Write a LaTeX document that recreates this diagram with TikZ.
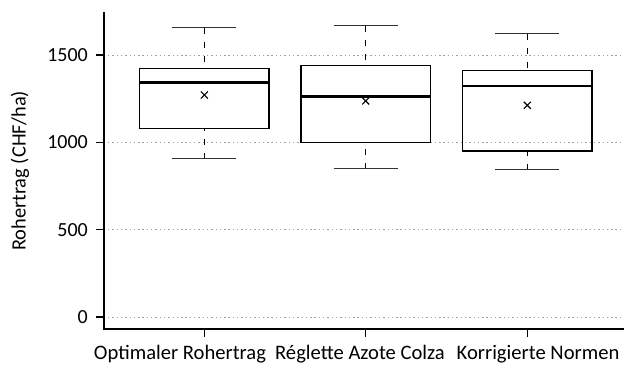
\documentclass[tikz,border=0pt]{standalone}
\usepackage{fontspec}
\setmainfont{Carlito}
\usetikzlibrary{calc}
\usetikzlibrary{positioning}

\tikzset{
  grid line/.style={gray!75, line width=0.9pt, dash pattern=on 1.4pt off 2.9pt},
  axis line/.style={line width=1.3pt},
  box line/.style={line width=1.3pt},
  median line/.style={line width=2.8pt},
  whisker line/.style={line width=1.2pt, dash pattern=on 6pt off 8pt},
  cap line/.style={line width=1.4pt, black!80},
  mean mark/.style={line width=1.1pt},
  tick label/.style={anchor=east, inner sep=0pt, font=\fontsize{20}{24}\selectfont},
  cat label/.style={anchor=base, inner sep=0pt, font=\fontsize{20.6}{24}\selectfont},
}

\begin{document}
\begin{tikzpicture}[x=1pt, y=0.17467pt]
    \useasboundingbox (0,-274.8) rectangle (624,1814.9);

    % Grid and y ticks
    \foreach \v in {0,500,1000,1500} {
        \draw[grid line] (108,\v) -- (624,\v);
        \draw[axis line] (96,\v) -- (104,\v);
        \node[tick label] (tick\v) at (88,\v) {\v};
    }

    % Axes
    \coordinate (origin) at (104,-68.7);
    \coordinate (ytop) at (104,1746);
    \coordinate (xend) at (624,-68.7);
    \draw[axis line] (ytop) -- (origin) -- (xend);

    % y label
    \node[rotate=90, inner sep=0pt, font=\fontsize{20.4}{24}\selectfont] (ylabel) at (20,836) {Rohertrag (CHF/ha)};

    % Boxes
    \foreach \x/\lo/\qa/\md/\qc/\hi/\mn/\lx/\name [count=\i] in {
        204.3/906/1078/1341/1424/1656/1271/180/Optimaler Rohertrag,
        365.7/849/998/1264/1439/1668/1237/360/Réglette Azote Colza,
        527.3/843/950/1322/1410/1622/1212/538/Korrigierte Normen} {
        \draw[whisker line] (\x,\hi) -- (\x,\qc);
        \draw[whisker line] (\x,\lo) -- (\x,\qa);
        \draw[cap line] (\x-32,\hi) -- (\x+32,\hi);
        \draw[cap line] (\x-32,\lo) -- (\x+32,\lo);
        \draw[box line] (\x-64.6,\qa) rectangle (\x+64.6,\qc);
        \draw[median line] (\x-64.6,\md) -- (\x+64.6,\md);
        \coordinate (mean\i) at (\x,\mn);
        \draw[mean mark] ($(mean\i)+(-3.5pt,-3.5pt)$) -- ($(mean\i)+(3.5pt,3.5pt)$);
        \draw[mean mark] ($(mean\i)+(-3.5pt,3.5pt)$) -- ($(mean\i)+(3.5pt,-3.5pt)$);
        \draw[axis line] (\x,-68.7) -- (\x,-114.5);
        \node[cat label] (cat\i) at (\lx,-240.5) {\name};
    }
\end{tikzpicture}
\end{document}
